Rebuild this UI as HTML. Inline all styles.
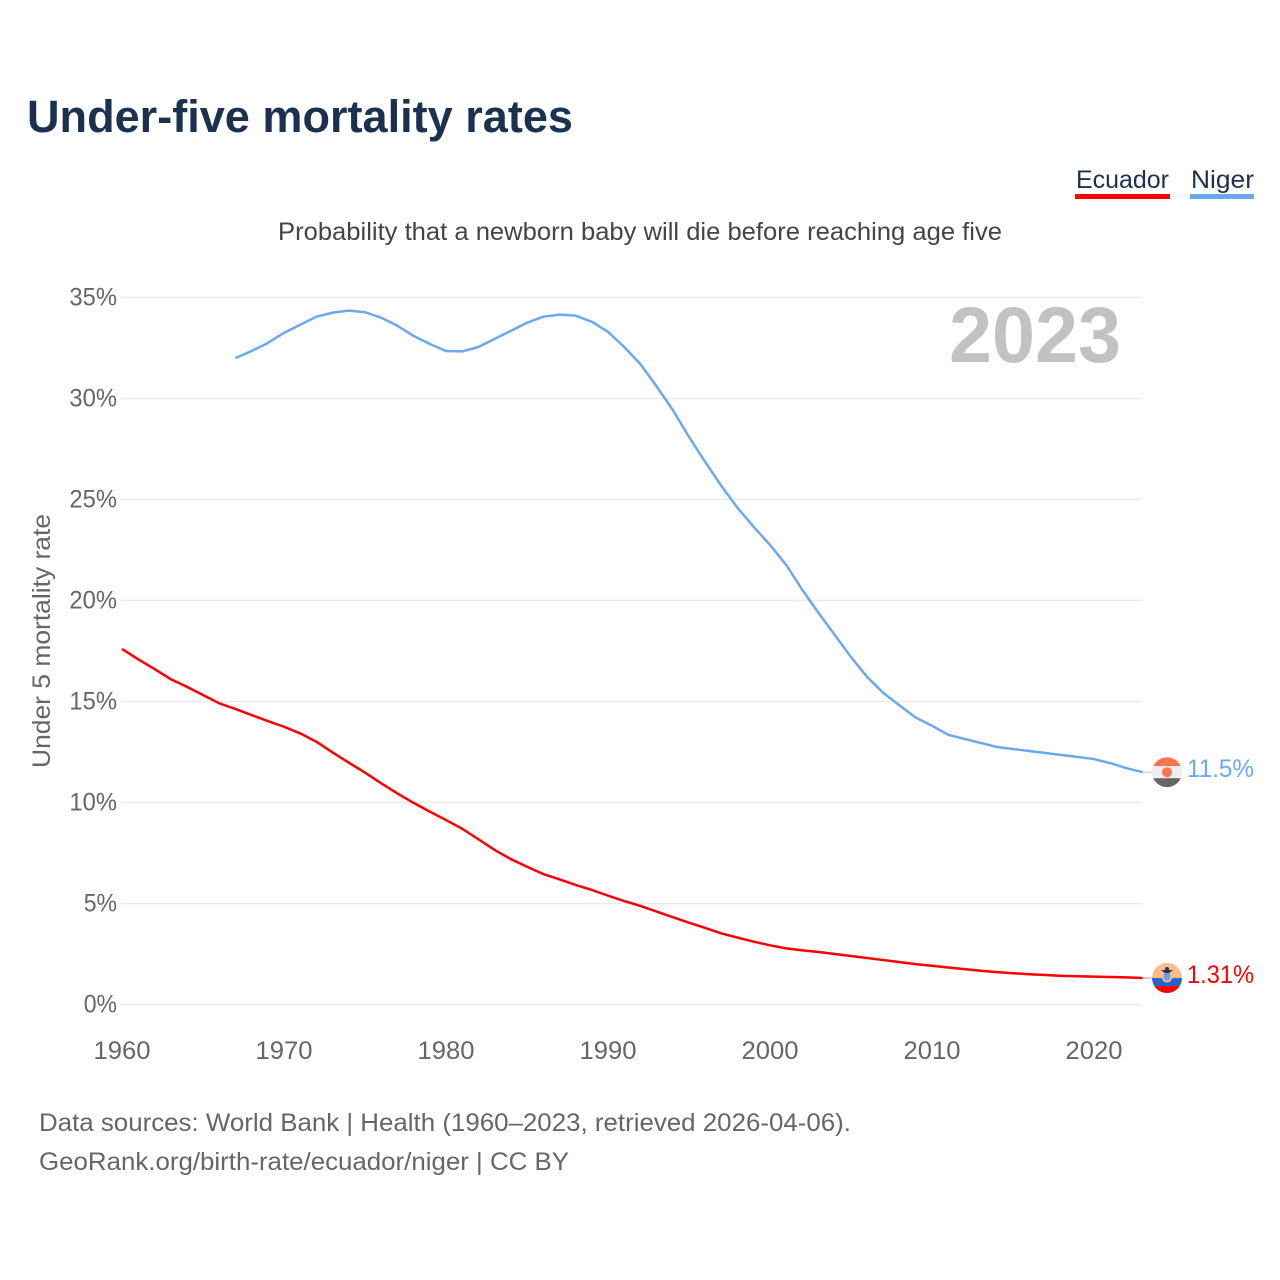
<!DOCTYPE html>
<html lang="en">
<head>
<meta charset="utf-8">
<title>Under-five mortality rates</title>
<style>
html,body{margin:0;padding:0;background:#fff;width:1280px;height:1280px;overflow:hidden}
svg{display:block}
text{font-family:"Liberation Sans",sans-serif}
</style>
</head>
<body>
<svg id="chart" xmlns="http://www.w3.org/2000/svg" width="1280" height="1280" viewBox="0 0 1280 1280">
  <rect width="1280" height="1280" fill="#fff"/>
  <text x="27" y="132" font-size="45" font-weight="700" fill="#1a3150" textLength="546" lengthAdjust="spacingAndGlyphs">Under-five mortality rates</text>
  <g>
    <g>
      <text x="1076" y="188" font-size="25" fill="#1a3150" textLength="93" lengthAdjust="spacingAndGlyphs">Ecuador</text>
      <rect x="1075" y="194" width="95" height="5" fill="#ff0000"/>
    </g>
    <g>
      <text x="1191" y="188" font-size="25" fill="#1a3150" textLength="63" lengthAdjust="spacingAndGlyphs">Niger</text>
      <rect x="1190" y="194" width="64" height="5" fill="#6aa9ef"/>
    </g>
  </g>
  <text x="278" y="240" font-size="25" fill="#444" textLength="724" lengthAdjust="spacingAndGlyphs">Probability that a newborn baby will die before reaching age five</text>
  <g id="grid"></g>
  <g id="yticks"></g>
  <g id="xticks"></g>
  <text transform="translate(50,641) rotate(-90)" text-anchor="middle" font-size="25" fill="#666" textLength="254" lengthAdjust="spacingAndGlyphs">Under 5 mortality rate</text>
  <text x="949" y="362" font-size="79" font-weight="700" fill="#c2c2c2" textLength="172" lengthAdjust="spacingAndGlyphs">2023</text>
  <g id="series"></g>
  <defs>
    <clipPath id="flag-clip-niger"><circle id="clip-niger" cx="1167" cy="772" r="15"/></clipPath>
    <clipPath id="flag-clip-ecuador"><circle id="clip-ecuador" cx="1167" cy="978" r="15"/></clipPath>
  </defs>
  <g id="end-niger"></g>
  <g id="end-ecuador"></g>
  <text x="39" y="1131" font-size="25" fill="#666" textLength="812" lengthAdjust="spacingAndGlyphs">Data sources: World Bank | Health (1960–2023, retrieved 2026-04-06).</text>
  <text x="39" y="1170" font-size="25" fill="#666" textLength="530" lengthAdjust="spacingAndGlyphs">GeoRank.org/birth-rate/ecuador/niger | CC BY</text>
</svg>
<script>
var yTicks = [0, 5, 10, 15, 20, 25, 30, 35];
var xTicks = [1960, 1970, 1980, 1990, 2000, 2010, 2020];
var ecuadorStartYear = 1960;
var ecuadorValues = [17.6,17.09,16.61,16.11,15.73,15.32,14.91,14.63,14.33,14.03,13.75,13.42,13.01,12.48,11.97,11.48,10.95,10.45,9.98,9.55,9.13,8.7,8.18,7.65,7.2,6.82,6.46,6.2,5.92,5.67,5.39,5.12,4.88,4.6,4.32,4.05,3.79,3.52,3.31,3.11,2.93,2.78,2.68,2.6,2.5,2.4,2.3,2.2,2.1,2.0,1.92,1.83,1.75,1.67,1.6,1.55,1.5,1.46,1.42,1.4,1.38,1.36,1.34,1.31];
var nigerStartYear = 1967;
var nigerValues = [32.0,32.35,32.75,33.25,33.65,34.05,34.25,34.35,34.27,34.0,33.6,33.1,32.7,32.35,32.33,32.55,32.95,33.35,33.75,34.05,34.15,34.1,33.8,33.3,32.55,31.7,30.6,29.43,28.1,26.86,25.67,24.58,23.64,22.75,21.76,20.52,19.38,18.29,17.2,16.21,15.42,14.8,14.2,13.8,13.35,13.15,12.95,12.75,12.65,12.55,12.45,12.35,12.25,12.15,11.95,11.7,11.5];
var ecuadorLabel = "1.31%";
var nigerLabel = "11.5%";

var NS = "http://www.w3.org/2000/svg";
function xScale(year) { return 122 + (year - 1960) * 16.2; }
function yScale(value) { return 1004.5 - value * 20.2; }
function make(tag, attrs, parent, text) {
  var el = document.createElementNS(NS, tag);
  for (var k in attrs) el.setAttribute(k, attrs[k]);
  if (text !== undefined) el.textContent = text;
  parent.appendChild(el);
  return el;
}
function linePoints(startYear, values) {
  return values.map(function (v, i) {
    return xScale(startYear + i).toFixed(2) + "," + yScale(v).toFixed(2);
  }).join(" ");
}

var grid = document.getElementById("grid");
var yG = document.getElementById("yticks");
var xG = document.getElementById("xticks");

yTicks.forEach(function (t) {
  var line = make("line", {x1: 121, x2: 1142, y1: yScale(t), y2: yScale(t), stroke: "#ececec", "stroke-width": 1.6}, grid);
  
  
  var s = t + "%";
  var label = make("text", {x: 117, y: yScale(t) + 8, "text-anchor": "end", "font-size": 25, fill: "#666", textLength: (s.length - 1) * 14.3 + 19, lengthAdjust: "spacingAndGlyphs"}, yG, s);
  
  
});

xTicks.forEach(function (t) {
  var label = make("text", {x: xScale(t), y: 1059, "text-anchor": "middle", "font-size": 25, fill: "#666", textLength: 57, lengthAdjust: "spacingAndGlyphs"}, xG, String(t));
  
  
});

var series = document.getElementById("series");
var ecuadorLine = make("polyline", {points: linePoints(ecuadorStartYear, ecuadorValues), fill: "none", stroke: "#ff0000", "stroke-width": 2.5, "stroke-linejoin": "round"}, series);


var nigerLine = make("polyline", {points: linePoints(nigerStartYear, nigerValues), fill: "none", stroke: "#6aa9ef", "stroke-width": 2.5, "stroke-linejoin": "round"}, series);



// Niger end marker
var nEnd = nigerValues[nigerValues.length - 1];
var ny = yScale(nEnd);
var nG = document.getElementById("end-niger");
document.getElementById("clip-niger").setAttribute("cy", ny);
var nConn = make("line", {x1: xScale(2023), x2: 1152, y1: ny, y2: ny, stroke: "#c9dcf3", "stroke-width": 1.5}, nG);


var nFlag = make("g", {"clip-path": "url(#flag-clip-niger)"}, nG);


make("rect", {x: 1152, y: ny - 15, width: 30, height: 9, fill: "#ff7350"}, nFlag);
make("rect", {x: 1152, y: ny - 6, width: 30, height: 12, fill: "#eeeeee"}, nFlag);
make("rect", {x: 1152, y: ny + 6, width: 30, height: 9, fill: "#666666"}, nFlag);
make("circle", {cx: 1167, cy: ny, r: 5, fill: "#ff7350"}, nFlag);
var nLabel = make("text", {x: 1187, y: ny + 5, "font-size": 25, fill: "#6aa9ef", textLength: 67, lengthAdjust: "spacingAndGlyphs"}, nG, nigerLabel);



// Ecuador end marker
var eEnd = ecuadorValues[ecuadorValues.length - 1];
var ey = yScale(eEnd);
var eG = document.getElementById("end-ecuador");
document.getElementById("clip-ecuador").setAttribute("cy", ey);
var eConn = make("line", {x1: xScale(2023), x2: 1152, y1: ey, y2: ey, stroke: "#ffb0b0", "stroke-width": 1.5}, eG);


var eFlag = make("g", {"clip-path": "url(#flag-clip-ecuador)"}, eG);


make("rect", {x: 1152, y: ey - 15, width: 30, height: 15, fill: "#ffbd8c"}, eFlag);
make("rect", {x: 1152, y: ey, width: 30, height: 8, fill: "#2a62c8"}, eFlag);
make("rect", {x: 1152, y: ey + 8, width: 30, height: 8, fill: "#ff0000"}, eFlag);
make("ellipse", {cx: 1167, cy: ey - 2, rx: 5.5, ry: 6.5, fill: "#ffbd8c"}, eFlag);
make("ellipse", {cx: 1167, cy: ey - 2, rx: 3.5, ry: 5, fill: "#6f9fe0"}, eFlag);
make("polygon", {points: [1161, ey - 8, 1173, ey - 8, 1169, ey - 5, 1165, ey - 5].join(" "), fill: "#2a3550"}, eFlag);
make("circle", {cx: 1167, cy: ey - 9, r: 2, fill: "#2a3550"}, eFlag);
var eLabel = make("text", {x: 1187, y: ey + 5, "font-size": 25, fill: "#ff0000", textLength: 67, lengthAdjust: "spacingAndGlyphs"}, eG, ecuadorLabel);


</script>
</body>
</html>
